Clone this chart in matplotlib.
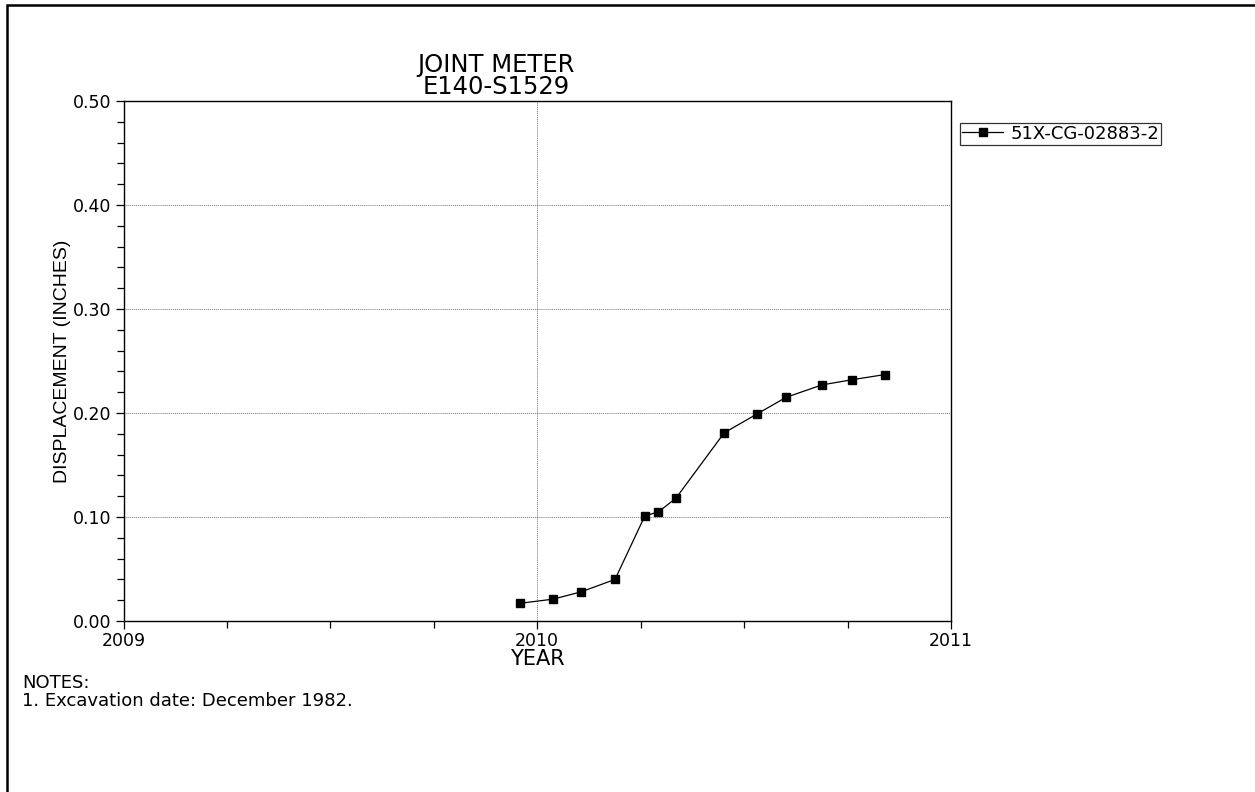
import matplotlib
matplotlib.use("Agg")
import matplotlib.pyplot as plt
from matplotlib.patches import Rectangle
from matplotlib.ticker import MultipleLocator, FixedLocator

plt.rcParams['font.family'] = ['DejaVu Sans']

# Readings for joint meter 51X-CG-02883-2
years = [2009.958, 2010.038, 2010.106, 2010.188, 2010.260, 2010.293, 2010.335,
         2010.452, 2010.531, 2010.601, 2010.688, 2010.761, 2010.841]
displacement = [0.017, 0.021, 0.028, 0.040, 0.101, 0.105, 0.118,
                0.181, 0.199, 0.215, 0.227, 0.232, 0.237]
series_name = "51X-CG-02883-2"
x_ticks = [2009, 2010, 2011]
y_ticks = [0.0, 0.1, 0.2, 0.3, 0.4, 0.5]

W, H = 1255, 792
fig = plt.figure(figsize=(W / 100, H / 100), dpi=100)
ax = fig.add_axes([123.5 / W, 1 - 621 / H, (951 - 123.5) / W, (621 - 101) / H])

ax.plot(years, displacement, color='black', linewidth=0.9, marker='s',
        markersize=6, markerfacecolor='black', markeredgecolor='black',
        label=series_name)

ax.set_xlim(2009, 2011)
ax.set_ylim(0, 0.5)
ax.xaxis.set_major_locator(FixedLocator(x_ticks))
ax.xaxis.set_minor_locator(MultipleLocator(0.25))
ax.yaxis.set_major_locator(FixedLocator(y_ticks))
ax.yaxis.set_minor_locator(MultipleLocator(0.02))
ax.set_xticklabels([str(v) for v in x_ticks])
ax.set_yticklabels([f"{v:.2f}" for v in y_ticks])

ax.tick_params(axis='both', which='both', direction='out', color='black',
               labelsize=12.5, width=0.9)
ax.tick_params(axis='both', which='major', length=6, pad=2)
ax.tick_params(axis='y', which='major', pad=3)
ax.tick_params(axis='both', which='minor', length=5)

ax.grid(True, which='major', linestyle=(0, (1, 1)), color='#777777', linewidth=0.7)
for s in ax.spines.values():
    s.set_linewidth(1.0)
    s.set_color('black')

ax.set_xlabel("YEAR", fontsize=15, labelpad=-1)
ax.set_ylabel("DISPLACEMENT (INCHES)", fontsize=14, labelpad=1,
              family='Liberation Sans')

fig.text(496 / W, 1 - 72 / H, "JOINT METER", ha='center', va='baseline', fontsize=17.5)
fig.text(496 / W, 1 - 93.5 / H, "E140-S1529", ha='center', va='baseline', fontsize=17.5)

leg = ax.legend(loc='upper left', bbox_to_anchor=(960 / W, 1 - 123 / H),
                bbox_transform=fig.transFigure, frameon=True, fancybox=False,
                edgecolor='black', fontsize=13, handlelength=2.3,
                borderpad=0.1, handletextpad=0.4, borderaxespad=0)
leg.get_frame().set_linewidth(0.9)
for h in leg.legend_handles:
    h.set_markersize(5.5)

fig.text(22 / W, 1 - 683 / H, "NOTES:", ha='left', va='center', fontsize=13)
fig.text(22 / W, 1 - 701 / H, "1. Excavation date: December 1982.", ha='left',
         va='center', fontsize=13)

# Outer page frame (open to the right and bottom)
fig.patches.append(Rectangle((7 / W, -0.1), 1.2, 1 - 5 / H + 0.1,
                             transform=fig.transFigure, fill=False,
                             edgecolor='black', linewidth=1.8))

fig.savefig("out.png", dpi=100)
